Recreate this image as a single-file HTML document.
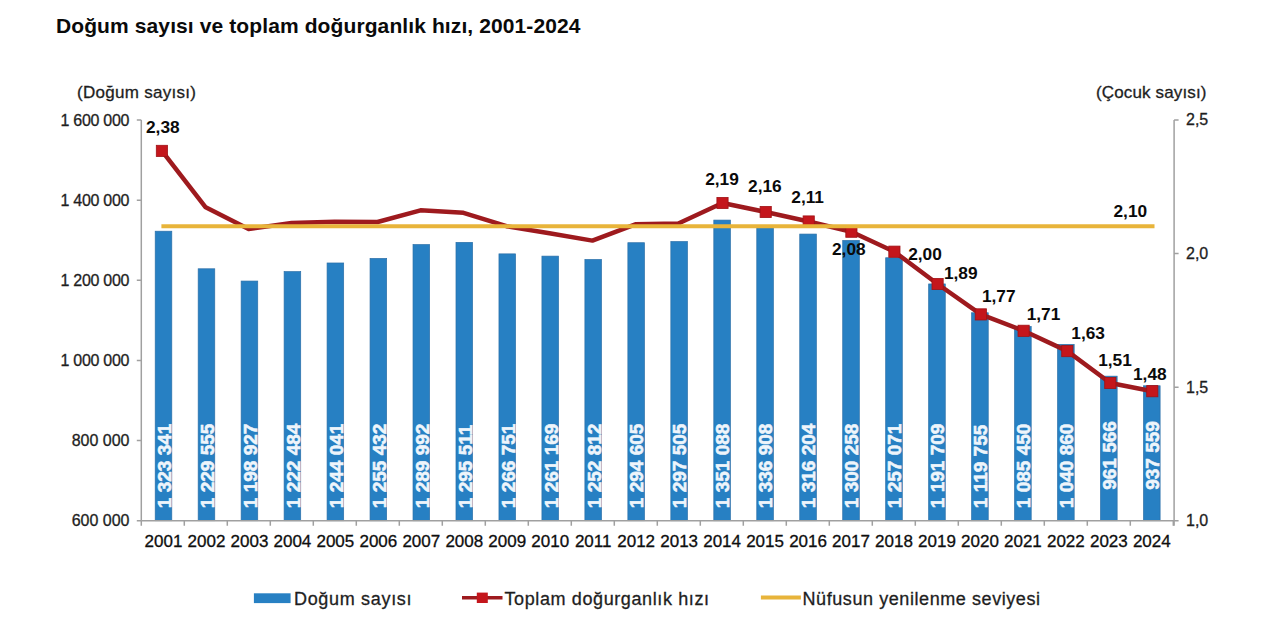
<!DOCTYPE html>
<html><head><meta charset="utf-8"><title>Doğum sayısı ve toplam doğurganlık hızı</title>
<style>html,body{margin:0;padding:0;background:#fff;width:1280px;height:635px;overflow:hidden}
svg{display:block;font-family:'Liberation Sans', sans-serif}</style></head>
<body><svg width="1280" height="635" viewBox="0 0 1280 635">
<rect x="0" y="0" width="1280" height="635" fill="#ffffff"/>
<text x="56" y="33.4" font-size="21" font-weight="700" fill="#0a0a0a" textLength="524.5">Doğum sayısı ve toplam doğurganlık hızı, 2001-2024</text>
<text x="77" y="98.2" font-size="17" fill="#1e1e1e" stroke="#1e1e1e" stroke-width="0.3" textLength="119">(Doğum sayısı)</text>
<text x="1096" y="98.2" font-size="17" fill="#1e1e1e" stroke="#1e1e1e" stroke-width="0.3" textLength="110.5">(Çocuk sayısı)</text>
<rect x="155.20" y="231.21" width="16.60" height="289.49" fill="#2780c3" stroke="#2b6fa8" stroke-width="0.7"/>
<rect x="198.17" y="268.79" width="16.60" height="251.91" fill="#2780c3" stroke="#2b6fa8" stroke-width="0.7"/>
<rect x="241.14" y="281.06" width="16.60" height="239.64" fill="#2780c3" stroke="#2b6fa8" stroke-width="0.7"/>
<rect x="284.11" y="271.62" width="16.60" height="249.08" fill="#2780c3" stroke="#2b6fa8" stroke-width="0.7"/>
<rect x="327.08" y="262.98" width="16.60" height="257.72" fill="#2780c3" stroke="#2b6fa8" stroke-width="0.7"/>
<rect x="370.05" y="258.42" width="16.60" height="262.28" fill="#2780c3" stroke="#2b6fa8" stroke-width="0.7"/>
<rect x="413.02" y="244.57" width="16.60" height="276.13" fill="#2780c3" stroke="#2b6fa8" stroke-width="0.7"/>
<rect x="455.99" y="242.36" width="16.60" height="278.34" fill="#2780c3" stroke="#2b6fa8" stroke-width="0.7"/>
<rect x="498.96" y="253.88" width="16.60" height="266.82" fill="#2780c3" stroke="#2b6fa8" stroke-width="0.7"/>
<rect x="541.93" y="256.12" width="16.60" height="264.58" fill="#2780c3" stroke="#2b6fa8" stroke-width="0.7"/>
<rect x="584.90" y="259.47" width="16.60" height="261.23" fill="#2780c3" stroke="#2b6fa8" stroke-width="0.7"/>
<rect x="627.87" y="242.72" width="16.60" height="277.98" fill="#2780c3" stroke="#2b6fa8" stroke-width="0.7"/>
<rect x="670.84" y="241.56" width="16.60" height="279.14" fill="#2780c3" stroke="#2b6fa8" stroke-width="0.7"/>
<rect x="713.81" y="220.09" width="16.60" height="300.61" fill="#2780c3" stroke="#2b6fa8" stroke-width="0.7"/>
<rect x="756.78" y="225.77" width="16.60" height="294.93" fill="#2780c3" stroke="#2b6fa8" stroke-width="0.7"/>
<rect x="799.75" y="234.07" width="16.60" height="286.63" fill="#2780c3" stroke="#2b6fa8" stroke-width="0.7"/>
<rect x="842.72" y="240.46" width="16.60" height="280.24" fill="#2780c3" stroke="#2b6fa8" stroke-width="0.7"/>
<rect x="885.69" y="257.76" width="16.60" height="262.94" fill="#2780c3" stroke="#2b6fa8" stroke-width="0.7"/>
<rect x="928.66" y="283.95" width="16.60" height="236.75" fill="#2780c3" stroke="#2b6fa8" stroke-width="0.7"/>
<rect x="971.63" y="312.78" width="16.60" height="207.92" fill="#2780c3" stroke="#2b6fa8" stroke-width="0.7"/>
<rect x="1014.60" y="326.53" width="16.60" height="194.17" fill="#2780c3" stroke="#2b6fa8" stroke-width="0.7"/>
<rect x="1057.57" y="344.40" width="16.60" height="176.30" fill="#2780c3" stroke="#2b6fa8" stroke-width="0.7"/>
<rect x="1100.54" y="376.17" width="16.60" height="144.53" fill="#2780c3" stroke="#2b6fa8" stroke-width="0.7"/>
<rect x="1143.51" y="385.79" width="16.60" height="134.91" fill="#2780c3" stroke="#2b6fa8" stroke-width="0.7"/>
<path d="M141.3,120.0 V520.7 M1174.1,120.0 V525.7 M141.3,520.7 H1174.1" stroke="#a0a0a0" stroke-width="1.5" fill="none"/>
<path d="M136.8,120.00 H141.3 M136.8,200.14 H141.3 M136.8,280.28 H141.3 M136.8,360.42 H141.3 M136.8,440.56 H141.3 M136.8,520.70 H141.3 M1174.1,120.00 H1178.6 M1174.1,253.57 H1178.6 M1174.1,387.13 H1178.6 M1174.1,520.70 H1178.6 M141.30,520.7 V525.7 M184.30,520.7 V525.7 M227.30,520.7 V525.7 M270.30,520.7 V525.7 M313.30,520.7 V525.7 M356.30,520.7 V525.7 M399.30,520.7 V525.7 M442.30,520.7 V525.7 M485.30,520.7 V525.7 M528.30,520.7 V525.7 M571.30,520.7 V525.7 M614.30,520.7 V525.7 M657.30,520.7 V525.7 M700.30,520.7 V525.7 M743.30,520.7 V525.7 M786.30,520.7 V525.7 M829.30,520.7 V525.7 M872.30,520.7 V525.7 M915.30,520.7 V525.7 M958.30,520.7 V525.7 M1001.30,520.7 V525.7 M1044.30,520.7 V525.7 M1087.30,520.7 V525.7 M1130.30,520.7 V525.7 M1173.30,520.7 V525.7" stroke="#a0a0a0" stroke-width="1.5" fill="none"/>
<text x="129.5" y="125.60" font-size="16" fill="#1e1e1e" stroke="#1e1e1e" stroke-width="0.3" text-anchor="end" textLength="68.9">1 600 000</text>
<text x="129.5" y="205.74" font-size="16" fill="#1e1e1e" stroke="#1e1e1e" stroke-width="0.3" text-anchor="end" textLength="68.9">1 400 000</text>
<text x="129.5" y="285.88" font-size="16" fill="#1e1e1e" stroke="#1e1e1e" stroke-width="0.3" text-anchor="end" textLength="68.9">1 200 000</text>
<text x="129.5" y="366.02" font-size="16" fill="#1e1e1e" stroke="#1e1e1e" stroke-width="0.3" text-anchor="end" textLength="68.9">1 000 000</text>
<text x="129.5" y="446.16" font-size="16" fill="#1e1e1e" stroke="#1e1e1e" stroke-width="0.3" text-anchor="end">800 000</text>
<text x="129.5" y="526.30" font-size="16" fill="#1e1e1e" stroke="#1e1e1e" stroke-width="0.3" text-anchor="end">600 000</text>
<text x="1186" y="125.40" font-size="16" fill="#1e1e1e" stroke="#1e1e1e" stroke-width="0.3">2,5</text>
<text x="1186" y="258.97" font-size="16" fill="#1e1e1e" stroke="#1e1e1e" stroke-width="0.3">2,0</text>
<text x="1186" y="392.53" font-size="16" fill="#1e1e1e" stroke="#1e1e1e" stroke-width="0.3">1,5</text>
<text x="1186" y="526.10" font-size="16" fill="#1e1e1e" stroke="#1e1e1e" stroke-width="0.3">1,0</text>
<text x="163.50" y="546.9" font-size="17" fill="#0e0e0e" stroke="#0e0e0e" stroke-width="0.3" text-anchor="middle">2001</text>
<text x="206.47" y="546.9" font-size="17" fill="#0e0e0e" stroke="#0e0e0e" stroke-width="0.3" text-anchor="middle">2002</text>
<text x="249.44" y="546.9" font-size="17" fill="#0e0e0e" stroke="#0e0e0e" stroke-width="0.3" text-anchor="middle">2003</text>
<text x="292.41" y="546.9" font-size="17" fill="#0e0e0e" stroke="#0e0e0e" stroke-width="0.3" text-anchor="middle">2004</text>
<text x="335.38" y="546.9" font-size="17" fill="#0e0e0e" stroke="#0e0e0e" stroke-width="0.3" text-anchor="middle">2005</text>
<text x="378.35" y="546.9" font-size="17" fill="#0e0e0e" stroke="#0e0e0e" stroke-width="0.3" text-anchor="middle">2006</text>
<text x="421.32" y="546.9" font-size="17" fill="#0e0e0e" stroke="#0e0e0e" stroke-width="0.3" text-anchor="middle">2007</text>
<text x="464.29" y="546.9" font-size="17" fill="#0e0e0e" stroke="#0e0e0e" stroke-width="0.3" text-anchor="middle">2008</text>
<text x="507.26" y="546.9" font-size="17" fill="#0e0e0e" stroke="#0e0e0e" stroke-width="0.3" text-anchor="middle">2009</text>
<text x="550.23" y="546.9" font-size="17" fill="#0e0e0e" stroke="#0e0e0e" stroke-width="0.3" text-anchor="middle">2010</text>
<text x="593.20" y="546.9" font-size="17" fill="#0e0e0e" stroke="#0e0e0e" stroke-width="0.3" text-anchor="middle">2011</text>
<text x="636.17" y="546.9" font-size="17" fill="#0e0e0e" stroke="#0e0e0e" stroke-width="0.3" text-anchor="middle">2012</text>
<text x="679.14" y="546.9" font-size="17" fill="#0e0e0e" stroke="#0e0e0e" stroke-width="0.3" text-anchor="middle">2013</text>
<text x="722.11" y="546.9" font-size="17" fill="#0e0e0e" stroke="#0e0e0e" stroke-width="0.3" text-anchor="middle">2014</text>
<text x="765.08" y="546.9" font-size="17" fill="#0e0e0e" stroke="#0e0e0e" stroke-width="0.3" text-anchor="middle">2015</text>
<text x="808.05" y="546.9" font-size="17" fill="#0e0e0e" stroke="#0e0e0e" stroke-width="0.3" text-anchor="middle">2016</text>
<text x="851.02" y="546.9" font-size="17" fill="#0e0e0e" stroke="#0e0e0e" stroke-width="0.3" text-anchor="middle">2017</text>
<text x="893.99" y="546.9" font-size="17" fill="#0e0e0e" stroke="#0e0e0e" stroke-width="0.3" text-anchor="middle">2018</text>
<text x="936.96" y="546.9" font-size="17" fill="#0e0e0e" stroke="#0e0e0e" stroke-width="0.3" text-anchor="middle">2019</text>
<text x="979.93" y="546.9" font-size="17" fill="#0e0e0e" stroke="#0e0e0e" stroke-width="0.3" text-anchor="middle">2020</text>
<text x="1022.90" y="546.9" font-size="17" fill="#0e0e0e" stroke="#0e0e0e" stroke-width="0.3" text-anchor="middle">2021</text>
<text x="1065.87" y="546.9" font-size="17" fill="#0e0e0e" stroke="#0e0e0e" stroke-width="0.3" text-anchor="middle">2022</text>
<text x="1108.84" y="546.9" font-size="17" fill="#0e0e0e" stroke="#0e0e0e" stroke-width="0.3" text-anchor="middle">2023</text>
<text x="1151.81" y="546.9" font-size="17" fill="#0e0e0e" stroke="#0e0e0e" stroke-width="0.3" text-anchor="middle">2024</text>
<text transform="translate(170.80,508.2) rotate(-90)" font-size="19" font-weight="700" fill="#eef5fb" stroke="#eef5fb" stroke-width="0.6">1 323 341</text>
<text transform="translate(213.77,508.2) rotate(-90)" font-size="19" font-weight="700" fill="#eef5fb" stroke="#eef5fb" stroke-width="0.6">1 229 555</text>
<text transform="translate(256.74,508.2) rotate(-90)" font-size="19" font-weight="700" fill="#eef5fb" stroke="#eef5fb" stroke-width="0.6">1 198 927</text>
<text transform="translate(299.71,508.2) rotate(-90)" font-size="19" font-weight="700" fill="#eef5fb" stroke="#eef5fb" stroke-width="0.6">1 222 484</text>
<text transform="translate(342.68,508.2) rotate(-90)" font-size="19" font-weight="700" fill="#eef5fb" stroke="#eef5fb" stroke-width="0.6">1 244 041</text>
<text transform="translate(385.65,508.2) rotate(-90)" font-size="19" font-weight="700" fill="#eef5fb" stroke="#eef5fb" stroke-width="0.6">1 255 432</text>
<text transform="translate(428.62,508.2) rotate(-90)" font-size="19" font-weight="700" fill="#eef5fb" stroke="#eef5fb" stroke-width="0.6">1 289 992</text>
<text transform="translate(471.59,508.2) rotate(-90)" font-size="19" font-weight="700" fill="#eef5fb" stroke="#eef5fb" stroke-width="0.6">1 295 511</text>
<text transform="translate(514.56,508.2) rotate(-90)" font-size="19" font-weight="700" fill="#eef5fb" stroke="#eef5fb" stroke-width="0.6">1 266 751</text>
<text transform="translate(557.53,508.2) rotate(-90)" font-size="19" font-weight="700" fill="#eef5fb" stroke="#eef5fb" stroke-width="0.6">1 261 169</text>
<text transform="translate(600.50,508.2) rotate(-90)" font-size="19" font-weight="700" fill="#eef5fb" stroke="#eef5fb" stroke-width="0.6">1 252 812</text>
<text transform="translate(643.47,508.2) rotate(-90)" font-size="19" font-weight="700" fill="#eef5fb" stroke="#eef5fb" stroke-width="0.6">1 294 605</text>
<text transform="translate(686.44,508.2) rotate(-90)" font-size="19" font-weight="700" fill="#eef5fb" stroke="#eef5fb" stroke-width="0.6">1 297 505</text>
<text transform="translate(729.41,508.2) rotate(-90)" font-size="19" font-weight="700" fill="#eef5fb" stroke="#eef5fb" stroke-width="0.6">1 351 088</text>
<text transform="translate(772.38,508.2) rotate(-90)" font-size="19" font-weight="700" fill="#eef5fb" stroke="#eef5fb" stroke-width="0.6">1 336 908</text>
<text transform="translate(815.35,508.2) rotate(-90)" font-size="19" font-weight="700" fill="#eef5fb" stroke="#eef5fb" stroke-width="0.6">1 316 204</text>
<text transform="translate(858.32,508.2) rotate(-90)" font-size="19" font-weight="700" fill="#eef5fb" stroke="#eef5fb" stroke-width="0.6">1 300 258</text>
<text transform="translate(901.29,508.2) rotate(-90)" font-size="19" font-weight="700" fill="#eef5fb" stroke="#eef5fb" stroke-width="0.6">1 257 071</text>
<text transform="translate(944.26,508.2) rotate(-90)" font-size="19" font-weight="700" fill="#eef5fb" stroke="#eef5fb" stroke-width="0.6">1 191 709</text>
<text transform="translate(987.23,508.2) rotate(-90)" font-size="19" font-weight="700" fill="#eef5fb" stroke="#eef5fb" stroke-width="0.6">1 119 755</text>
<text transform="translate(1030.20,508.2) rotate(-90)" font-size="19" font-weight="700" fill="#eef5fb" stroke="#eef5fb" stroke-width="0.6">1 085 450</text>
<text transform="translate(1073.17,508.2) rotate(-90)" font-size="19" font-weight="700" fill="#eef5fb" stroke="#eef5fb" stroke-width="0.6">1 040 860</text>
<text transform="translate(1116.14,489.8) rotate(-90)" font-size="19" font-weight="700" fill="#eef5fb" stroke="#eef5fb" stroke-width="0.6">961 566</text>
<text transform="translate(1159.11,489.8) rotate(-90)" font-size="19" font-weight="700" fill="#eef5fb" stroke="#eef5fb" stroke-width="0.6">937 559</text>
<polyline points="161.90,150.90 205.67,207.30 248.64,229.00 291.61,223.00 334.58,221.80 377.55,222.00 420.52,210.30 463.49,212.80 506.46,226.20 549.43,233.20 592.40,240.60 635.37,224.30 678.34,223.50 722.50,203.00 765.70,212.00 808.70,221.50 851.40,231.70 894.40,251.70 937.60,284.00 980.80,314.40 1023.60,330.80 1067.30,351.10 1110.30,383.00 1152.30,391.20" stroke="#9e1a1e" stroke-width="4.5" fill="none" stroke-linejoin="round"/>
<rect x="156.30" y="145.30" width="11.2" height="11.2" fill="#c4161c" stroke="#a01216" stroke-width="0.8"/>
<rect x="716.90" y="197.40" width="11.2" height="11.2" fill="#c4161c" stroke="#a01216" stroke-width="0.8"/>
<rect x="760.10" y="206.40" width="11.2" height="11.2" fill="#c4161c" stroke="#a01216" stroke-width="0.8"/>
<rect x="803.10" y="215.90" width="11.2" height="11.2" fill="#c4161c" stroke="#a01216" stroke-width="0.8"/>
<rect x="845.80" y="226.10" width="11.2" height="11.2" fill="#c4161c" stroke="#a01216" stroke-width="0.8"/>
<rect x="888.80" y="246.10" width="11.2" height="11.2" fill="#c4161c" stroke="#a01216" stroke-width="0.8"/>
<rect x="932.00" y="278.40" width="11.2" height="11.2" fill="#c4161c" stroke="#a01216" stroke-width="0.8"/>
<rect x="975.20" y="308.80" width="11.2" height="11.2" fill="#c4161c" stroke="#a01216" stroke-width="0.8"/>
<rect x="1018.00" y="325.20" width="11.2" height="11.2" fill="#c4161c" stroke="#a01216" stroke-width="0.8"/>
<rect x="1061.70" y="345.50" width="11.2" height="11.2" fill="#c4161c" stroke="#a01216" stroke-width="0.8"/>
<rect x="1104.70" y="377.40" width="11.2" height="11.2" fill="#c4161c" stroke="#a01216" stroke-width="0.8"/>
<rect x="1146.70" y="385.60" width="11.2" height="11.2" fill="#c4161c" stroke="#a01216" stroke-width="0.8"/>
<path d="M161.4,226.3 H1154.5" stroke="#e8b43a" stroke-width="3.9" fill="none"/>
<text x="146.0" y="133.2" font-size="17.3" font-weight="700" fill="#0a0a0a">2,38</text>
<text x="705.2" y="184.9" font-size="17.3" font-weight="700" fill="#0a0a0a">2,19</text>
<text x="748.1" y="192.0" font-size="17.3" font-weight="700" fill="#0a0a0a">2,16</text>
<text x="791.3" y="203.4" font-size="17.3" font-weight="700" fill="#0a0a0a">2,11</text>
<text x="832.0" y="255.1" font-size="17.3" font-weight="700" fill="#0a0a0a">2,08</text>
<text x="908.2" y="259.8" font-size="17.3" font-weight="700" fill="#0a0a0a">2,00</text>
<text x="943.9" y="278.6" font-size="17.3" font-weight="700" fill="#0a0a0a">1,89</text>
<text x="981.9" y="302.4" font-size="17.3" font-weight="700" fill="#0a0a0a">1,77</text>
<text x="1026.7" y="320.4" font-size="17.3" font-weight="700" fill="#0a0a0a">1,71</text>
<text x="1071.3" y="339.2" font-size="17.3" font-weight="700" fill="#0a0a0a">1,63</text>
<text x="1098.2" y="365.8" font-size="17.3" font-weight="700" fill="#0a0a0a">1,51</text>
<text x="1133.0" y="379.6" font-size="17.3" font-weight="700" fill="#0a0a0a">1,48</text>
<text x="1113.5" y="216.5" font-size="17.3" font-weight="700" fill="#0a0a0a">2,10</text>
<rect x="253.9" y="593.3" width="36.7" height="9.8" fill="#2780c3"/>
<text x="294" y="604.5" font-size="18" fill="#1e1e1e" stroke="#1e1e1e" stroke-width="0.3" textLength="117.5">Doğum sayısı</text>
<path d="M462,597.8 H502.5" stroke="#9e1a1e" stroke-width="3.5"/>
<rect x="476.8" y="592.6" width="11" height="10.4" fill="#c4161c"/>
<text x="504.5" y="604.5" font-size="18" fill="#1e1e1e" stroke="#1e1e1e" stroke-width="0.3" textLength="204.5">Toplam doğurganlık hızı</text>
<path d="M760.9,597.4 H800.9" stroke="#e8b43a" stroke-width="4"/>
<text x="802.5" y="604.5" font-size="18" fill="#1e1e1e" stroke="#1e1e1e" stroke-width="0.3" textLength="237.5">Nüfusun yenilenme seviyesi</text>
</svg></body></html>
